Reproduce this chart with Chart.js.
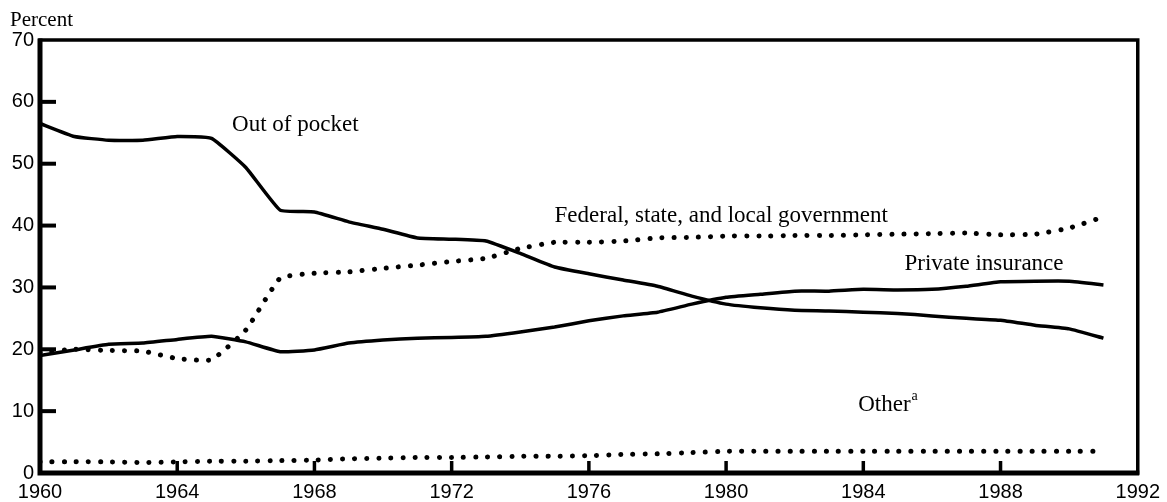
<!DOCTYPE html>
<html>
<head>
<meta charset="utf-8">
<script src="https://cdn.jsdelivr.net/npm/chart.js@4.4.1/dist/chart.umd.min.js"></script>
<style>
  html, body { margin: 0; padding: 0; background: #fff; }
  #wrap { width: 1167px; height: 502px; }
</style>
</head>
<body>
<div id="wrap"><canvas id="chart" width="1167" height="502"></canvas></div>
<script>
// Health spending shares by source of payment, 1960-1991 (percent)
const years = [1960, 1961, 1962, 1963, 1964, 1965, 1966, 1967, 1968, 1969, 1970,
               1971, 1972, 1973, 1974, 1975, 1976, 1977, 1978, 1979, 1980,
               1981, 1982, 1983, 1984, 1985, 1986, 1987, 1988, 1989, 1990, 1991];

const outOfPocket = [56.5, 54.4, 53.8, 53.8, 54.4, 54.1, 49.4, 42.5, 42.2, 40.6, 39.4,
                     38.0, 37.8, 37.5, 35.5, 33.3, 32.2, 31.2, 30.2, 28.6, 27.3,
                     26.7, 26.3, 26.2, 26.0, 25.8, 25.4, 25.0, 24.7, 23.9, 23.3, 21.8];

const privateInsurance = [19.0, 19.9, 20.8, 21.0, 21.6, 22.1, 21.2, 19.6, 19.9, 21.0, 21.5,
                          21.8, 21.9, 22.1, 22.8, 23.6, 24.6, 25.4, 26.0, 27.3, 28.4,
                          28.9, 29.4, 29.4, 29.7, 29.6, 29.7, 30.2, 30.9, 31.0, 31.0, 30.4];

const government = [19.5, 20.0, 19.8, 19.7, 18.5, 18.3, 23.1, 31.5, 32.3, 32.5, 33.1,
                    33.6, 34.2, 34.7, 36.3, 37.3, 37.3, 37.5, 38.0, 38.1, 38.3,
                    38.3, 38.4, 38.4, 38.5, 38.6, 38.7, 38.8, 38.5, 38.6, 39.6, 41.4];

const other = [1.8, 1.8, 1.8, 1.7, 1.8, 1.9, 1.9, 2.0, 2.1, 2.3, 2.4,
               2.5, 2.5, 2.6, 2.7, 2.7, 2.8, 3.0, 3.1, 3.3, 3.5,
               3.5, 3.5, 3.5, 3.5, 3.5, 3.5, 3.5, 3.5, 3.5, 3.5, 3.5];

const yTicks = [0, 10, 20, 30, 40, 50, 60, 70];
const xTicks = [1960, 1964, 1968, 1972, 1976, 1980, 1984, 1988, 1992];

const seriesLabels = [
    { text: 'Out of pocket', x: 1965.6, y: 56.2 },
    { text: 'Federal, state, and local government', x: 1975.0, y: 41.6 },
    { text: 'Private insurance', x: 1985.2, y: 33.8 },
    { text: 'Other', sup: 'a', x: 1983.85, y: 11.0 }
];

const serif = "'Liberation Serif', 'DejaVu Serif', serif";
const sans = "'Liberation Sans', Arial, sans-serif";

const toPoints = vals => vals.map((v, i) => ({ x: years[i], y: v }));

const solid = {
    borderColor: '#000',
    borderWidth: 3.5,
    pointRadius: 0,
    tension: 0.12,
    fill: false
};
const dotted = {
    borderColor: '#000',
    borderWidth: 5,
    borderDash: [0.1, 12],
    borderCapStyle: 'round',
    pointRadius: 0,
    tension: 0.12,
    fill: false
};

// frame, inward ticks and in-plot labels
const decorations = {
    id: 'decorations',
    afterDraw(chart) {
        const { ctx, chartArea: a, scales } = chart;
        const xs = scales.x, ys = scales.y;
        ctx.save();
        ctx.strokeStyle = '#000';
        ctx.lineCap = 'butt';

        ctx.lineWidth = 3.5;
        ctx.strokeRect(a.left, a.top, a.right - a.left, a.bottom - a.top);
        ctx.lineWidth = 5;
        ctx.beginPath();
        ctx.moveTo(a.left, a.top - 1.5);
        ctx.lineTo(a.left, a.bottom);
        ctx.lineTo(a.right + 1.5, a.bottom);
        ctx.stroke();

        ctx.lineWidth = 4;
        yTicks.slice(1, -1).forEach(v => {
            const py = ys.getPixelForValue(v);
            ctx.beginPath();
            ctx.moveTo(a.left, py);
            ctx.lineTo(a.left + 16, py);
            ctx.stroke();
        });
        ctx.lineWidth = 3.5;
        xTicks.slice(1, -1).forEach(v => {
            const px = xs.getPixelForValue(v);
            ctx.beginPath();
            ctx.moveTo(px, a.bottom);
            ctx.lineTo(px, a.bottom - 12);
            ctx.stroke();
        });

        ctx.fillStyle = '#000';
        ctx.textBaseline = 'middle';
        ctx.textAlign = 'left';
        seriesLabels.forEach(l => {
            const px = xs.getPixelForValue(l.x);
            const py = ys.getPixelForValue(l.y);
            ctx.font = '23px ' + serif;
            ctx.fillText(l.text, px, py);
            if (l.sup) {
                const w = ctx.measureText(l.text).width;
                ctx.font = '14px ' + serif;
                ctx.fillText(l.sup, px + w + 1, py - 9);
            }
        });

        ctx.font = '21px ' + serif;
        ctx.textBaseline = 'alphabetic';
        ctx.fillText('Percent', 10, 26);
        ctx.restore();
    }
};

new Chart(document.getElementById('chart'), {
    type: 'line',
    data: {
        datasets: [
            { label: 'Out of pocket', data: toPoints(outOfPocket), ...solid },
            { label: 'Private insurance', data: toPoints(privateInsurance), ...solid },
            { label: 'Federal, state, and local government', data: toPoints(government), ...dotted },
            { label: 'Other', data: toPoints(other), ...dotted }
        ]
    },
    options: {
        responsive: false,
        animation: false,
        layout: { padding: { left: 0, top: 40, right: 29, bottom: 0 } },
        scales: {
            x: {
                type: 'linear',
                min: 1960,
                max: 1992,
                afterBuildTicks: scale => { scale.ticks = xTicks.map(v => ({ value: v })); },
                afterFit: scale => { scale.height = 29; },
                grid: { display: false, drawTicks: false },
                border: { display: false },
                ticks: {
                    padding: 7,
                    maxRotation: 0,
                    autoSkip: false,
                    color: '#000',
                    font: { family: sans, size: 20 },
                    callback: v => String(v)
                }
            },
            y: {
                min: 0,
                max: 70,
                afterBuildTicks: scale => { scale.ticks = yTicks.map(v => ({ value: v })); },
                afterFit: scale => { scale.width = 40; },
                grid: { display: false, drawTicks: false },
                border: { display: false },
                ticks: {
                    padding: 6,
                    color: '#000',
                    font: { family: sans, size: 20 }
                }
            }
        },
        plugins: {
            legend: { display: false },
            tooltip: { enabled: false }
        }
    },
    plugins: [decorations]
});
</script>
</body>
</html>
